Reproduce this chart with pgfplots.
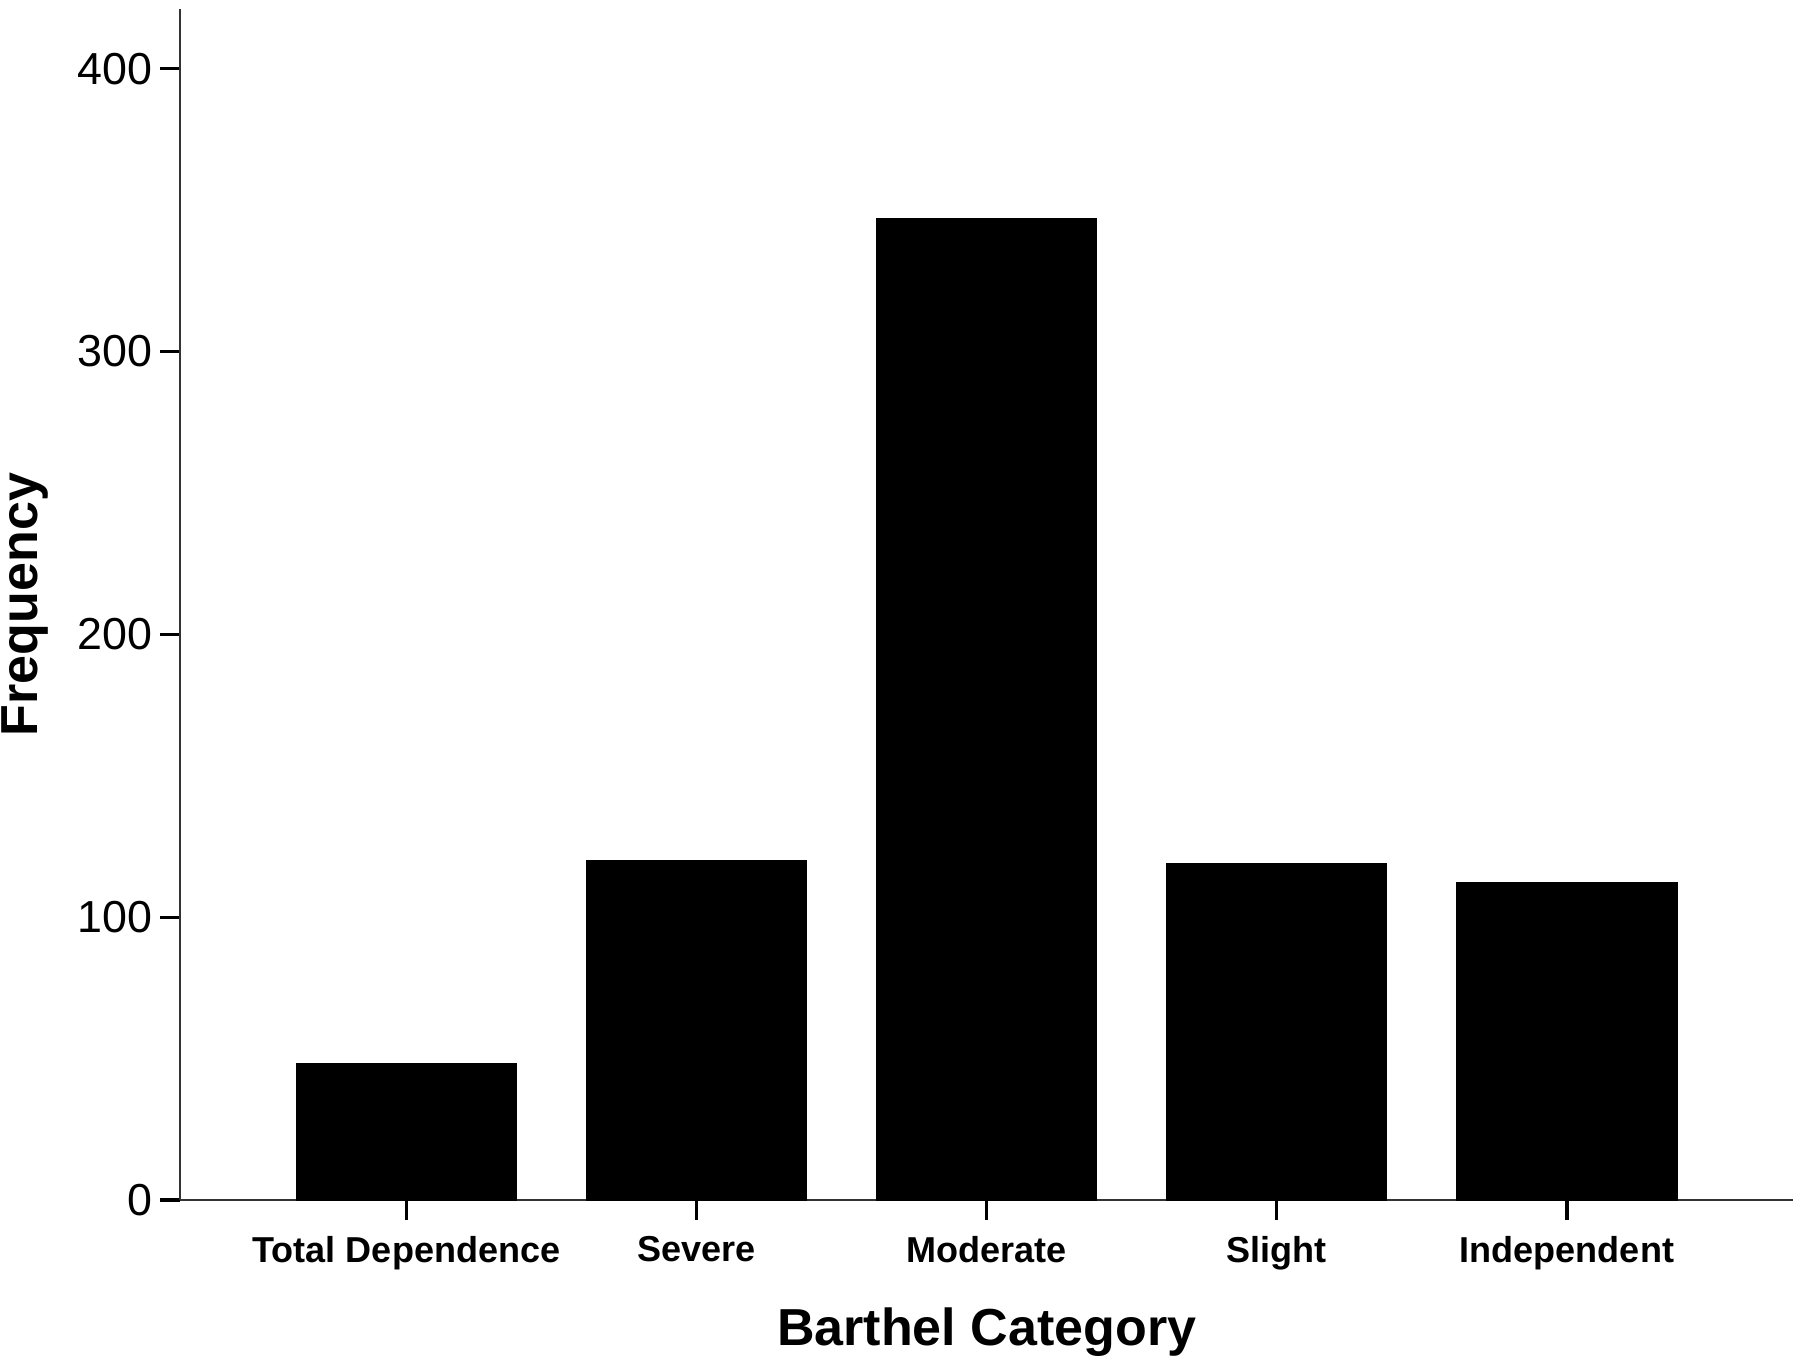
\documentclass[border=0pt]{standalone}
\usepackage{fontspec}
\setmainfont{Liberation Sans}
\usepackage{pgfplots}
\pgfplotsset{compat=1.18}
\begin{document}
\begin{tikzpicture}
\begin{axis}[
    scale only axis,
    width=403pt, height=297.5pt,
    ybar, bar width=0.757,
    xmin=-0.78, xmax=4.78,
    ymin=0, ymax=421,
    axis x line*=bottom, axis y line*=left,
    axis line style={black!80, line width=0.6pt},
    xtick=data,
    xticklabels={Total Dependence, Severe, Moderate, Slight, Independent},
    ytick={0,100,200,300,400},
    tick align=outside,
    major tick length=5pt,
    tick style={black, line width=0.8pt},
    /pgf/number format/assume math mode=true,
    xticklabel style={font=\bfseries\fontsize{9}{10}\selectfont, yshift=-0.5pt},
    yticklabel style={font=\fontsize{11.2}{12}\selectfont, xshift=1.7pt},
    xlabel={Barthel Category},
    ylabel={Frequency},
    xlabel style={font=\bfseries\fontsize{13}{15}\selectfont, at={(axis description cs:0.5,-0.111)}, anchor=center},
    ylabel style={font=\bfseries\fontsize{13}{15}\selectfont, at={(axis description cs:-0.096,0.5)}, anchor=center},
    clip=false,
]
\addplot[fill=black, draw=black] coordinates {(0,48) (1,120) (2,347) (3,119) (4,112)};
\coordinate (o) at (rel axis cs:0,0);
\coordinate (t) at (rel axis cs:1,1);
\end{axis}
\pgfresetboundingbox
\path[use as bounding box] ([xshift=-45pt,yshift=-40.2pt]o) rectangle ([xshift=1.7pt,yshift=2.3pt]t);
\end{tikzpicture}
\end{document}
